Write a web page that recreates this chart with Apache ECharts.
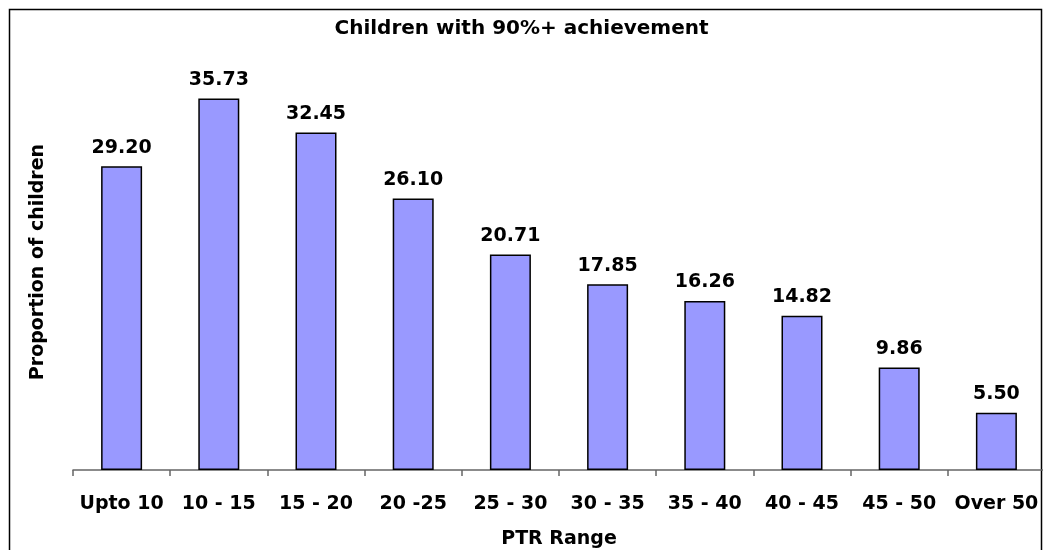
<!DOCTYPE html>
<html><head><meta charset="utf-8">
<script src="https://cdn.jsdelivr.net/npm/echarts@6/dist/echarts.min.js"></script>
<style>html,body{margin:0;padding:0;background:#fff}#c{width:1043px;height:550px}</style>
</head><body><div id="c"></div>
<script>
const categories = ["Upto 10","10 - 15","15 - 20","20 -25","25 - 30","30 - 35","35 - 40","40 - 45","45 - 50","Over 50"];
const values = [29.20,35.73,32.45,26.10,20.71,17.85,16.26,14.82,9.86,5.50];
const titleText = "Children with 90%+ achievement";
const xName = "PTR Range";
const yName = "Proportion of children";
const font = "DejaVu Sans";
const chart = echarts.init(document.getElementById('c'));
chart.setOption({
  animation:false,
  backgroundColor:'#fff',
  title:{text:titleText,left:'center',top:14,textStyle:{fontFamily:font,fontWeight:'bold',fontSize:20,color:'#000'}},
  graphic:[{type:'rect',shape:{x:9.5,y:9.5,width:1032,height:560},style:{fill:'none',stroke:'#000',lineWidth:1.5},silent:true,z:-1}],
  grid:{left:73,right:-2,top:54,bottom:80,containLabel:false,outerBoundsMode:'none'},
  xAxis:{type:'category',data:categories,name:xName,nameLocation:'middle',nameGap:60,
    nameTextStyle:{fontFamily:font,fontWeight:'bold',fontSize:19,color:'#000'},
    axisLine:{lineStyle:{color:'#666',width:1.5}},
    axisTick:{show:true,length:6,lineStyle:{color:'#666',width:1.5}},
    axisLabel:{fontFamily:font,fontWeight:'bold',fontSize:19,color:'#000',margin:25,interval:0}},
  yAxis:{type:'value',min:0,max:40,name:yName,nameLocation:'middle',nameGap:25,nameRotate:90,
    nameTextStyle:{fontFamily:font,fontWeight:'bold',fontSize:19,color:'#000'},
    axisLine:{show:false},axisTick:{show:false},axisLabel:{show:false},splitLine:{show:false}},
  series:[{type:'bar',data:values,barWidth:41,
    itemStyle:{color:'#9999FF',borderColor:'#000',borderWidth:1.5},
    label:{show:true,position:'top',distance:9,formatter:p=>p.value.toFixed(2),
      fontFamily:font,fontWeight:'bold',fontSize:19,color:'#000'}}]
});
</script></body></html>
